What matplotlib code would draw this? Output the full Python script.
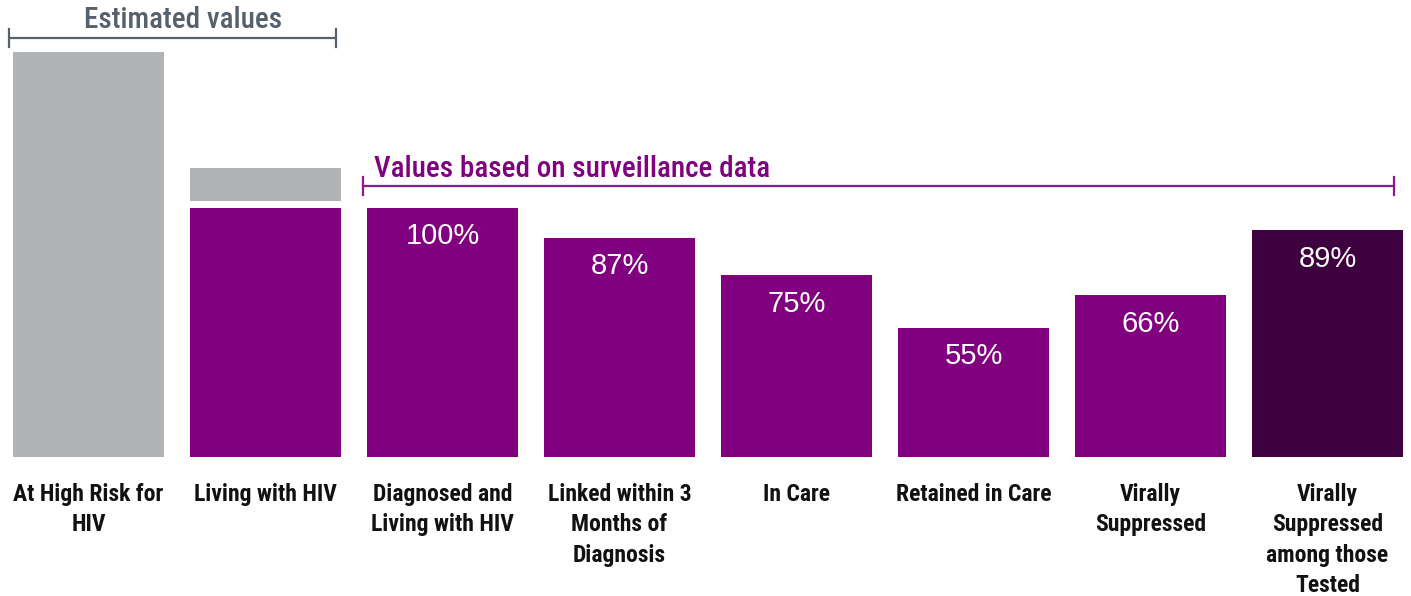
import matplotlib
matplotlib.use("Agg")
import matplotlib.pyplot as plt
from matplotlib import font_manager

categories = ["At High Risk for\nHIV", "Living with HIV", "Diagnosed and\nLiving with HIV",
              "Linked within 3\nMonths of\nDiagnosis", "In Care", "Retained in Care",
              "Virally\nSuppressed", "Virally\nSuppressed\namong those\nTested"]
values = [162.5, 100, 100, 88, 73, 52, 65, 91]
living_estimated_total = 116
pct_labels = ["", "", "100%", "87%", "75%", "55%", "66%", "89%"]
bar_colors = ["#b0b4b7", "#800080", "#800080", "#800080", "#800080", "#800080", "#800080", "#3f003f"]

names = {f.name for f in font_manager.fontManager.ttflist}
narrow = "DejaVu Sans"
for cand in ["Roboto Condensed", "Fira Sans Condensed", "Archivo Narrow", "PT Sans Narrow",
             "Barlow Semi Condensed", "Barlow Condensed", "Pragati Narrow", "Liberation Sans Narrow"]:
    if cand in names:
        narrow = cand
        break

fig = plt.figure(figsize=(14.11, 5.96), dpi=100)
ax = fig.add_axes([0, 0, 1, 1])
ax.set_xlim(-0.5, 7.472)
ax.set_ylim(-55.8, 183.5)
ax.axis("off")

w = 0.85
x = list(range(len(values)))
ax.bar(x, values, width=w, color=bar_colors, zorder=2)
gap = 2.8
ax.bar([1], [living_estimated_total - values[1] - gap], bottom=[values[1] + gap],
       width=w, color="#b0b4b7", zorder=2)

for xi, v, lab in zip(x, values, pct_labels):
    if lab:
        ax.text(xi, v - 11.4, lab, ha="center", va="center", color="white",
                fontsize=21, family=["Liberation Sans", "DejaVu Sans"])

for xi, c in zip(x, categories):
    ax.text(xi, -10.5, c, ha="center", va="top", fontsize=17, fontweight="bold",
            family=[narrow, "DejaVu Sans"], color="#111111", linespacing=1.4)

# Estimated bracket
gcol = "#56616c"
x0, x1, yb = -w / 2 - 0.024, 1 + w / 2 - 0.024, 168.3
ax.plot([x0, x1], [yb, yb], color=gcol, lw=1.6, solid_capstyle="butt")
for xx in (x0, x1):
    ax.plot([xx, xx], [yb - 3.6, yb + 3.6], color=gcol, lw=1.6)
ax.text(0.534, 175.4, "Estimated values", ha="center", va="center", fontsize=21,
        color=gcol, family=[narrow, "DejaVu Sans"], fontweight="medium")

# Surveillance bracket
pcol = "#8b1a8b"
x0, x1, yb = 2 - w / 2 - 0.025, 7 + w / 2 - 0.05, 108.8
ax.plot([x0, x1], [yb, yb], color=pcol, lw=1.6)
for xx in (x0, x1):
    ax.plot([xx, xx], [yb - 3.6, yb + 3.6], color=pcol, lw=1.6)
ax.text(1.613, 115.6, "Values based on surveillance data", ha="left", va="center",
        fontsize=21, color="#800080", family=[narrow, "DejaVu Sans"], fontweight="medium")

fig.savefig("out.png", dpi=100)
